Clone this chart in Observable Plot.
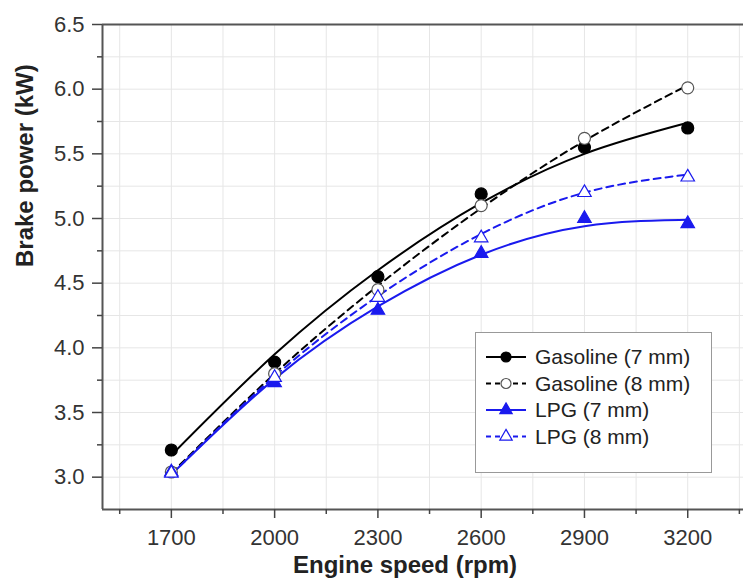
<!DOCTYPE html>
<html>
<head>
<meta charset="utf-8">
<script src="https://cdn.jsdelivr.net/npm/d3@7"></script>
<script src="https://cdn.jsdelivr.net/npm/@observablehq/plot@0.6"></script>
<style>
  html, body { margin: 0; padding: 0; background: #fff; overflow: hidden; }
  #wrap { position: relative; width: 745px; height: 585px; font-family: "Liberation Sans", Arial, sans-serif; }
  #legend { position: absolute; left: 475px; top: 332px; }
</style>
</head>
<body>
<div id="wrap"></div>
<script>
// Engine speed (rpm)
const speeds = [1700, 2000, 2300, 2600, 2900, 3200];
// Measured brake power (kW)
const gasoline7 = [3.21, 3.89, 4.55, 5.19, 5.55, 5.70];
const gasoline8 = [3.04, 3.80, 4.45, 5.10, 5.62, 6.01];
const lpg7 = [3.04, 3.73, 4.29, 4.73, 5.00, 4.96];
const lpg8 = [3.03, 3.77, 4.39, 4.85, 5.20, 5.32];
// Fitted curves at the same speeds
const gasoline7Fit = [3.17, 3.95, 4.60, 5.12, 5.50, 5.74];
const gasoline8Fit = [3.03, 3.80, 4.48, 5.08, 5.60, 6.03];
const lpg7Fit = [3.02, 3.76, 4.32, 4.72, 4.94, 4.99];
const lpg8Fit = [3.02, 3.78, 4.40, 4.88, 5.20, 5.34];

const seriesNames = ["Gasoline (7 mm)", "Gasoline (8 mm)", "LPG (7 mm)", "LPG (8 mm)"];

// Tick values
const xMajor = [1700, 2000, 2300, 2600, 2900, 3200];
const xMinor = [1550, 1850, 2150, 2450, 2750, 3050, 3350];
const yMajor = [3.0, 3.5, 4.0, 4.5, 5.0, 5.5, 6.0, 6.5];
const yMinor = [3.25, 3.75, 4.25, 4.75, 5.25, 5.75, 6.25];

const xLabel = "Engine speed (rpm)";
const yLabel = "Brake power (kW)";

const BLUE = "#1a1aee";
const styles = [
  {stroke: "#000", dash: null, symbol: "circle", fill: "#000", mstroke: "#000"},
  {stroke: "#000", dash: "7,5", symbol: "circle", fill: "#fff", mstroke: "#555"},
  {stroke: BLUE, dash: null, symbol: "triangle", fill: BLUE, mstroke: BLUE},
  {stroke: BLUE, dash: "7,5", symbol: "triangle", fill: "#fff", mstroke: BLUE}
];

const measured = [gasoline7, gasoline8, lpg7, lpg8];
const fits = [gasoline7Fit, gasoline8Fit, lpg7Fit, lpg8Fit];

const pts = (arr) => speeds.map((s, i) => ({x: s, y: arr[i]}));

const marks = [
  Plot.gridX(xMajor.concat(xMinor), {stroke: "#e6e6e6", strokeOpacity: 1, strokeWidth: 1}),
  Plot.gridY(yMajor.concat(yMinor), {stroke: "#e6e6e6", strokeOpacity: 1, strokeWidth: 1}),
];

fits.forEach((f, k) => {
  const st = styles[k];
  marks.push(Plot.line(pts(f), {x: "x", y: "y", curve: "natural", stroke: st.stroke, strokeWidth: 2, strokeDasharray: st.dash}));
});
measured.forEach((m, k) => {
  const st = styles[k];
  marks.push(Plot.dot(pts(m), {
    x: "x", y: "y", symbol: () => st.symbol,
    r: st.symbol === "circle" ? 6 : 5,
    fill: st.fill, stroke: st.mstroke, strokeWidth: 1.2
  }));
});

marks.push(
  Plot.ruleX([1500], {stroke: "#555", strokeWidth: 2}),
  Plot.ruleY([2.75], {stroke: "#555", strokeWidth: 2}),
  Plot.ruleY([6.5], {stroke: "#555", strokeWidth: 2}),
  Plot.axisX(xMajor, {tickSize: 9, tickPadding: 11, tickFormat: "d", label: null, fontSize: 22, stroke: "#444", strokeWidth: 1.5, fill: "#333"}),
  Plot.axisX(xMinor, {tickSize: 5, text: null, label: null, stroke: "#444", strokeWidth: 1.5}),
  Plot.axisY(yMajor, {tickSize: 10, tickPadding: 8, tickFormat: ".1f", label: null, fontSize: 22, stroke: "#444", strokeWidth: 1.5, fill: "#333"}),
  Plot.axisY(yMinor, {tickSize: 5, text: null, label: null, stroke: "#444", strokeWidth: 1.5}),
  Plot.text([xLabel], {text: d => d, frameAnchor: "bottom", dy: 63, dx: -18, fontSize: 24, fontWeight: "bold", fill: "#222"}),
  Plot.text([yLabel], {text: d => d, frameAnchor: "left", dx: -77, rotate: -90, fontSize: 24, fontWeight: "bold", fill: "#222"})
);

const chart = Plot.plot({
  width: 745,
  height: 585,
  marginLeft: 102,
  marginRight: 2,
  marginTop: 24,
  marginBottom: 76,
  style: {fontFamily: '"Liberation Sans", Arial, sans-serif', background: "#fff", overflow: "visible"},
  x: {type: "linear", domain: [1500, 3362]},
  y: {type: "linear", domain: [2.75, 6.5]},
  marks
});
document.getElementById("wrap").appendChild(chart);

// Legend box inside the plot area
const lw = 237, lh = 141;
const legend = d3.select("#wrap").append("svg")
  .attr("id", "legend").attr("width", lw).attr("height", lh)
  .style("font-family", '"Liberation Sans", Arial, sans-serif');
legend.append("rect").attr("x", 0.5).attr("y", 0.5).attr("width", lw - 1).attr("height", lh - 1)
  .attr("fill", "#fff").attr("stroke", "#999").attr("stroke-width", 1);
seriesNames.forEach((name, k) => {
  const st = styles[k];
  const cy = 25 + k * 26.5;
  legend.append("line").attr("x1", 11).attr("x2", 51).attr("y1", cy).attr("y2", cy)
    .attr("stroke", st.stroke).attr("stroke-width", 2)
    .attr("stroke-dasharray", st.dash ? "5,4" : null);
  const sym = st.symbol === "circle" ? d3.symbolCircle : d3.symbolTriangle;
  const size = st.symbol === "circle" ? Math.PI * 5 * 5 : Math.PI * 4.6 * 4.6;
  legend.append("path").attr("d", d3.symbol(sym, size)())
    .attr("transform", `translate(31,${cy})`)
    .attr("fill", st.fill).attr("stroke", st.mstroke).attr("stroke-width", 1.2);
  legend.append("text").attr("x", 60).attr("y", cy).attr("dy", "0.35em")
    .attr("font-size", 21).attr("fill", "#222").text(name);
});
</script>
</body>
</html>
